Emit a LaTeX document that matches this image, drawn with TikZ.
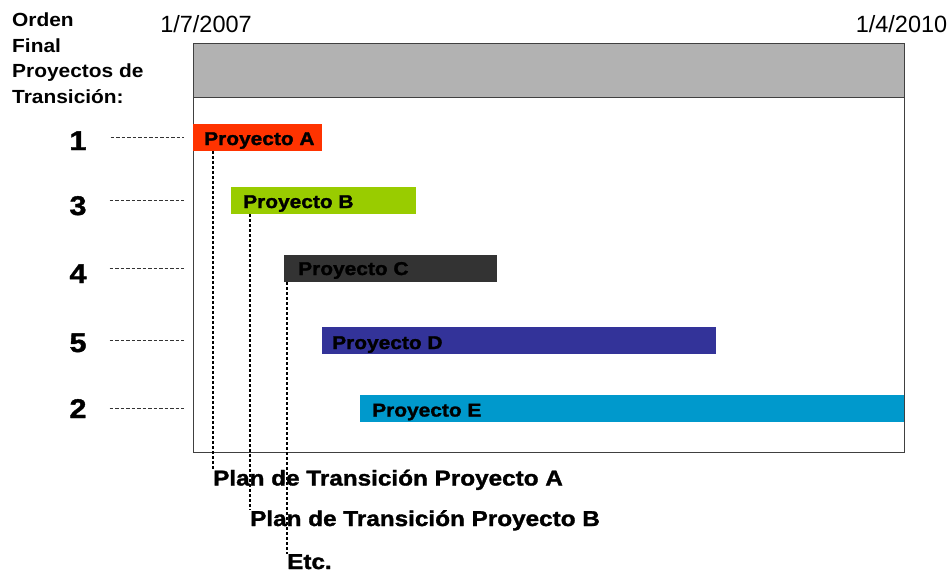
\documentclass[tikz,border=0pt]{standalone}
\usepackage{fontspec}
\setmainfont{Liberation Sans}
\newfontfamily\heavy{Liberation Sans}[UprightFont=* Bold, FakeStretch=1.13, FakeBold=1.5]
\newfontfamily\headfont{Liberation Sans}[UprightFont=* Bold, FakeStretch=1.1]
\usetikzlibrary{calc}

\definecolor{colA}{HTML}{FF3300}
\definecolor{colB}{HTML}{99CC00}
\definecolor{colC}{HTML}{333333}
\definecolor{colD}{HTML}{333399}
\definecolor{colE}{HTML}{0099CC}

\tikzset{
	bar/.style={anchor=north west, inner sep=0, minimum height=27pt},
	barlabel/.style={anchor=base west, inner sep=0, font=\heavy\fontsize{18.5}{20}\selectfont},
	plan/.style={anchor=base west, inner sep=0, font=\heavy\fontsize{21.5}{24}\selectfont},
	order/.style={anchor=base, inner sep=0, font=\heavy\fontsize{27}{28}\selectfont},
	date/.style={anchor=base, inner sep=0, font=\fontsize{23.5}{26}\selectfont},
	guide/.style={dash pattern=on 3.5pt off 2pt, line width=1.3pt, black!80},
	tracer/.style={dash pattern=on 3pt off 2pt, line width=1.8pt},
}

\begin{document}
\begin{tikzpicture}[x=1pt, y=-1pt]
	\useasboundingbox (0,0) rectangle (952,574);
	\path
		(193,43) node[draw=black!75, line width=.9pt, anchor=north west, minimum width=711, minimum height=409, inner sep=0] (frame) {}
		(193,43) node[draw=black!75, fill=black!30, line width=.9pt, anchor=north west, minimum width=711, minimum height=54, inner sep=0] (header) {}
		(206,32.5) node[date] (start) {1/7/2007}
		(901.5,32.5) node[date] (finish) {1/4/2010}
		(12,13) node[anchor=north west, inner sep=0, align=left, font=\headfont\fontsize{19}{25.5}\selectfont] (heading) {Orden\\Final\\Proyectos de\\Transición:}
	;
	% bars, one per project
	\path
		(193,124) node[bar, fill=colA, minimum width=129] (barA) {}
		(231,187) node[bar, fill=colB, minimum width=185] (barB) {}
		(284,255) node[bar, fill=colC, minimum width=213] (barC) {}
		(322,327) node[bar, fill=colD, minimum width=394] (barD) {}
		(360,395) node[bar, fill=colE, minimum width=544] (barE) {}
		(204,145) node[barlabel] {Proyecto A}
		(243,208) node[barlabel] {Proyecto B}
		(298,275) node[barlabel] {Proyecto C}
		(332,349) node[barlabel] {Proyecto D}
		(372,416.5) node[barlabel] {Proyecto E}
	;
	% final order
	\path
		(78,150) node[order] (n1) {1}
		(78,215) node[order] (n3) {3}
		(78,283) node[order] (n4) {4}
		(78,352) node[order] (n5) {5}
		(78,418) node[order] (n2) {2}
	;
	\draw[guide]
		($(n1.east |- barA.center)+(24,0)$) -- ($(frame.west |- barA.center)+(-9,0)$)
		($(n3.east |- barB.center)+(23,0)$) -- ($(frame.west |- barB.center)+(-9,0)$)
		($(n4.east |- barC.center)+(23,0)$) -- ($(frame.west |- barC.center)+(-9,0)$)
		($(n5.east |- barD.center)+(23,0)$) -- ($(frame.west |- barD.center)+(-9,0)$)
		($(n2.east |- barE.center)+(23,0)$) -- ($(frame.west |- barE.center)+(-9,0)$)
	;
	% transition plans
	\path
		(213,485.5) node[plan] (planA) {Plan de Transición Proyecto A}
		(250,526) node[plan] (planB) {Plan de Transición Proyecto B}
		(287,569) node[plan] (etc) {Etc.}
	;
	\draw[tracer]
		(planA.north west |- barA.south) -- (planA.north west)
		(planB.north west |- barB.south) -- (planB.north west)
		(etc.north west |- barC.south) -- (etc.north west)
	;
\end{tikzpicture}
\end{document}
